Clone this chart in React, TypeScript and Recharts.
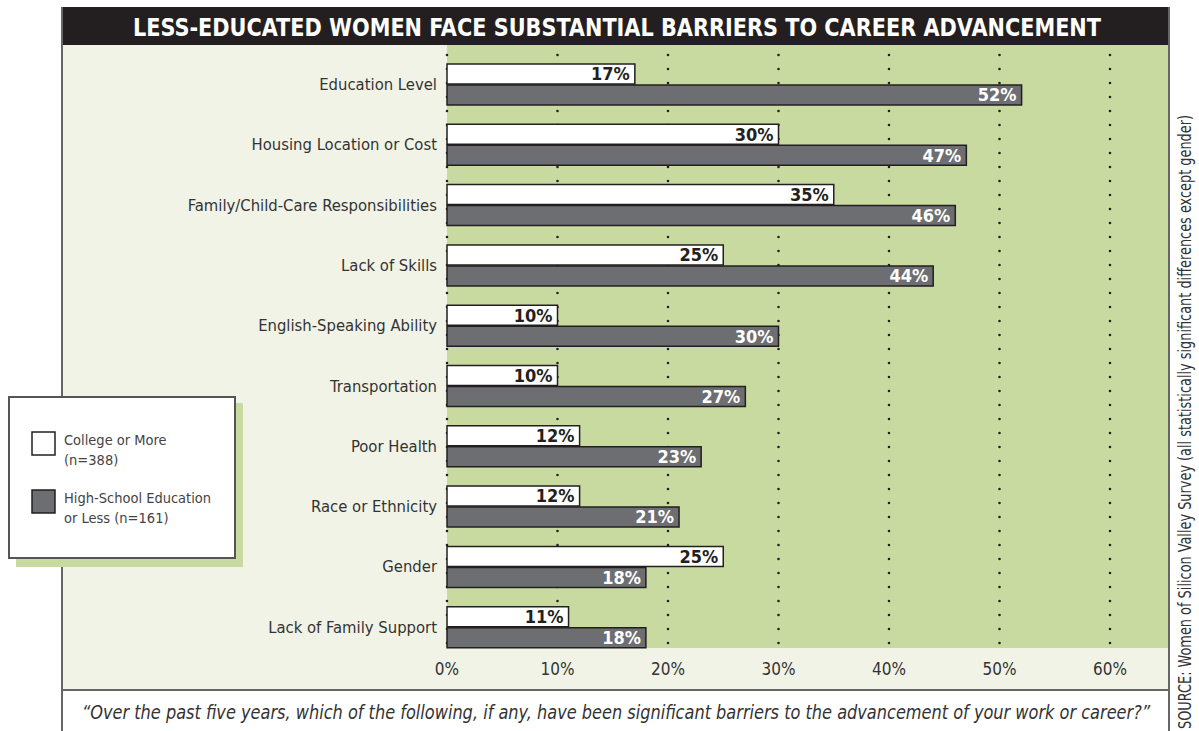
import React from 'react';
import { BarChart, Bar, XAxis, YAxis, CartesianGrid, LabelList } from 'recharts';

const categories = [
  'Education Level',
  'Housing Location or Cost',
  'Family/Child-Care Responsibilities',
  'Lack of Skills',
  'English-Speaking Ability',
  'Transportation',
  'Poor Health',
  'Race or Ethnicity',
  'Gender',
  'Lack of Family Support',
];
const collegeOrMore = [17, 30, 35, 25, 10, 10, 12, 12, 25, 11];
const highSchoolOrLess = [52, 47, 46, 44, 30, 27, 23, 21, 18, 18];
const xTicks = [0, 10, 20, 30, 40, 50, 60];

const TITLE = 'LESS-EDUCATED WOMEN FACE SUBSTANTIAL BARRIERS TO CAREER ADVANCEMENT';
const QUOTE = '\u201COver the past five years, which of the following, if any, have been significant barriers to the advancement of your work or career?\u201D';
const SOURCE = 'SOURCE: Women of Silicon Valley Survey (all statistically significant differences except gender)';

const data = categories.map((name, i) => ({
  name,
  college: collegeOrMore[i],
  highSchool: highSchoolOrLess[i],
}));

const FONT = "'Liberation Sans Narrow', 'DejaVu Sans Condensed', 'Arial Narrow', sans-serif";
const CREAM = '#f2f3e7';
const GREEN = '#c8da9f';
const DARK = '#231f20';
const GRAYBAR = '#6d6e71';
const LINE = '#666';
const TEXT = '#333';

const W = 1199;
const H = 731;

const DottedLine = (p: any) => (
  <line
    key={p.key}
    x1={p.x1}
    x2={p.x2}
    y1={p.y1 + 1}
    y2={p.y2 - 10}
    stroke={DARK}
    strokeWidth={2.6}
    strokeDasharray="0 14"
    strokeLinecap="round"
  />
);

export default function App() {
  return (
    <div style={{ position: 'absolute', left: 0, top: 0, width: W, height: H, background: '#fff', fontFamily: FONT }}>
      <svg width={W} height={H} style={{ position: 'absolute', left: 0, top: 0 }}>
        <rect x={62} y={45} width={1107} height={645} fill={CREAM} />
        <rect x={447} y={45} width={722} height={603} fill={GREEN} />
        <rect x={62} y={7} width={1107} height={38} fill={DARK} />
        <rect x={61} y={7} width={2} height={724} fill={LINE} />
        <rect x={1168} y={7} width={2} height={724} fill={LINE} />
        <rect x={62} y={689} width={1107} height={2} fill={LINE} />
        <text
          x={617}
          y={35.5}
          textAnchor="middle"
          fill="#fff"
          fontWeight="bold"
          fontSize={24}
          fontFamily={FONT}
          textLength={968}
          lengthAdjust="spacingAndGlyphs"
        >
          {TITLE}
        </text>
        <text
          transform="translate(616, 719) scale(0.83, 1)"
          x={0}
          y={0}
          textAnchor="middle"
          fill={TEXT}
          fontStyle="italic"
          fontSize={19}
          fontFamily={FONT}
          textLength={1287}
          lengthAdjust="spacingAndGlyphs"
        >
          {QUOTE}
        </text>
        <text
          transform="translate(1191, 422) rotate(-90)"
          textAnchor="middle"
          fill={TEXT}
          fontSize={17}
          fontFamily={FONT}
          textLength={614}
          lengthAdjust="spacingAndGlyphs"
        >
          {SOURCE}
        </text>
      </svg>

      <div style={{ position: 'absolute', left: 0, top: 0 }}>
        <BarChart
          width={W}
          height={H}
          data={data}
          layout="vertical"
          margin={{ top: 54, right: 89, bottom: 44, left: 0 }}
          barSize={20}
          barGap={1}
        >
          <CartesianGrid horizontal={false} vertical={DottedLine} />
          <XAxis
            type="number"
            domain={[0, 60]}
            ticks={xTicks}
            tickFormatter={(v: number) => `${v}%`}
            axisLine={false}
            tickLine={false}
            tickSize={0}
            tickMargin={6}
            height={30}
            tick={{ fill: TEXT, fontSize: 17, fontFamily: FONT }}
          />
          <YAxis
            type="category"
            dataKey="name"
            width={447}
            axisLine={false}
            tickLine={false}
            tickSize={0}
            tickMargin={10}
            interval={0}
            tick={{ fill: TEXT, fontSize: 16.5, fontFamily: FONT }}
          />
          <Bar dataKey="college" fill="#ffffff" stroke={DARK} strokeWidth={1.5} isAnimationActive={false}>
            <LabelList
              dataKey="college"
              position="insideRight"
              offset={5}
              formatter={(v: any) => `${v}%`}
              fill={DARK}
              fontWeight="bold"
              fontSize={18}
              fontFamily={FONT}
            />
          </Bar>
          <Bar dataKey="highSchool" fill={GRAYBAR} stroke={DARK} strokeWidth={1.5} isAnimationActive={false}>
            <LabelList
              dataKey="highSchool"
              position="insideRight"
              offset={5}
              formatter={(v: any) => `${v}%`}
              fill="#ffffff"
              fontWeight="bold"
              fontSize={18}
              fontFamily={FONT}
            />
          </Bar>
        </BarChart>
      </div>

      <svg width={W} height={H} style={{ position: 'absolute', left: 0, top: 0, pointerEvents: 'none' }}>
        <rect x={16} y={403} width={227} height={164} fill={GREEN} />
        <rect x={9} y={397} width={226} height={161} fill="#fff" stroke="#555" strokeWidth={2} />
        <rect x={32} y={432} width={23} height={23} fill="#fff" stroke={DARK} strokeWidth={1.5} />
        <rect x={32} y={490} width={23} height={23} fill={GRAYBAR} stroke={DARK} strokeWidth={1.5} />
        <g fill="#444" fontSize={14.5} fontFamily={FONT}>
          <text x={64} y={445}>College or More</text>
          <text x={64} y={465}>(n=388)</text>
          <text x={64} y={503}>High-School Education</text>
          <text x={64} y={523}>or Less (n=161)</text>
        </g>
      </svg>
    </div>
  );
}
